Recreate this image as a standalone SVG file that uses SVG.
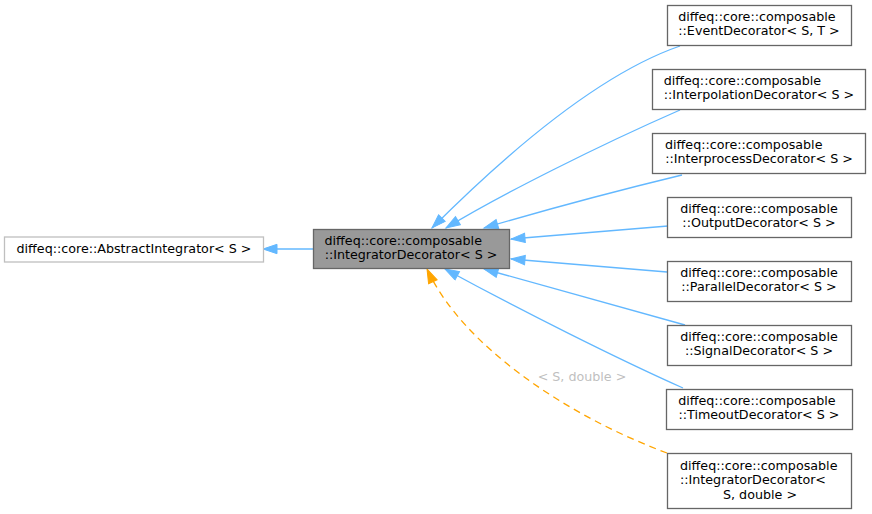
<svg xmlns="http://www.w3.org/2000/svg" width="872" height="514" viewBox="0 0 872 514">
<style>
text{font-family:"DejaVu Sans",sans-serif;font-size:12.7px;fill:#000;text-anchor:middle}
text.l{text-anchor:start}
.box{fill:#fff;stroke:#666;stroke-width:1.3}
.ext{fill:#fff;stroke:#bfbfbf;stroke-width:1.3}
.main{fill:#999;stroke:#666;stroke-width:1.3}
.e{fill:none;stroke:#63b8ff;stroke-width:1.3}
.t{fill:none;stroke:#ffa500;stroke-width:1.3;stroke-dasharray:7,5}
text.lbl{fill:#bfbfbf}
</style>
<defs>
<marker id="ab" markerUnits="userSpaceOnUse" markerWidth="17" markerHeight="12" refX="15" refY="5.5" orient="auto">
<path d="M1,0.8 L15,5.5 L1,10.2 z" fill="#63b8ff" stroke="#63b8ff" stroke-width="1"/>
</marker>
<marker id="ao" markerUnits="userSpaceOnUse" markerWidth="17" markerHeight="12" refX="15" refY="5.5" orient="auto">
<path d="M1,0.8 L15,5.5 L1,10.2 z" fill="#ffa500" stroke="#ffa500" stroke-width="1"/>
</marker>
</defs>
<g id="edges">
<path class="e" d="M313,249 L263,249" marker-end="url(#ab)"/>
<path class="e" d="M680,46 C590,77 492,168 432,228" marker-end="url(#ab)"/>
<path class="e" d="M680,110 C600,145 500,195 446,228" marker-end="url(#ab)"/>
<path class="e" d="M682,175 C620,190 545,210 484,228" marker-end="url(#ab)"/>
<path class="e" d="M668,226 L511,239" marker-end="url(#ab)"/>
<path class="e" d="M667,272 L511,259" marker-end="url(#ab)"/>
<path class="e" d="M685,325 L484,269" marker-end="url(#ab)"/>
<path class="e" d="M683,388 C620,360 520,310 445,269" marker-end="url(#ab)"/>
<path class="t" d="M667,453 C565,415 462,345 427,269" marker-end="url(#ao)"/>
<text class="lbl" x="582" y="381">&lt; S, double &gt;</text>
</g>
<g id="abstract">
<rect class="ext" x="4.5" y="237" width="259" height="25"/>
<text x="134" y="253.3">diffeq::core::AbstractIntegrator&lt; S &gt;</text>
</g>
<g id="integrator">
<rect class="main" x="313.5" y="229.5" width="196" height="39"/>
<text class="l" x="324.5" y="245.3">diffeq::core::composable</text>
<text x="411" y="259">::IntegratorDecorator&lt; S &gt;</text>
</g>
<g id="event">
<rect class="box" x="667.5" y="5.5" width="184" height="40"/>
<text class="l" x="678.2" y="21.3">diffeq::core::composable</text>
<text x="759" y="35">::EventDecorator&lt; S, T &gt;</text>
</g>
<g id="interpolation">
<rect class="box" x="652.5" y="69.5" width="213" height="40"/>
<text class="l" x="663.7" y="85.3">diffeq::core::composable</text>
<text x="759" y="99">::InterpolationDecorator&lt; S &gt;</text>
</g>
<g id="interprocess">
<rect class="box" x="652.5" y="133.5" width="213" height="40"/>
<text class="l" x="665" y="149.3">diffeq::core::composable</text>
<text x="759" y="163">::InterprocessDecorator&lt; S &gt;</text>
</g>
<g id="output">
<rect class="box" x="667.5" y="197.5" width="184" height="40"/>
<text x="759" y="213.3">diffeq::core::composable</text>
<text x="759" y="227">::OutputDecorator&lt; S &gt;</text>
</g>
<g id="parallel">
<rect class="box" x="667.5" y="261.5" width="184" height="40"/>
<text x="759" y="277.3">diffeq::core::composable</text>
<text x="759" y="291">::ParallelDecorator&lt; S &gt;</text>
</g>
<g id="signal">
<rect class="box" x="667.5" y="325.5" width="184" height="40"/>
<text x="759" y="341.3">diffeq::core::composable</text>
<text x="759" y="355">::SignalDecorator&lt; S &gt;</text>
</g>
<g id="timeout">
<rect class="box" x="666.5" y="389.5" width="186" height="40"/>
<text class="l" x="678.2" y="405.3">diffeq::core::composable</text>
<text x="759" y="419">::TimeoutDecorator&lt; S &gt;</text>
</g>
<g id="integrator_double">
<rect class="box" x="667.5" y="453.5" width="184" height="55"/>
<text class="l" x="680" y="470">diffeq::core::composable</text>
<text class="l" x="680" y="484.3">::IntegratorDecorator&lt;</text>
<text x="760" y="498.6">S, double &gt;</text>
</g>
</svg>
